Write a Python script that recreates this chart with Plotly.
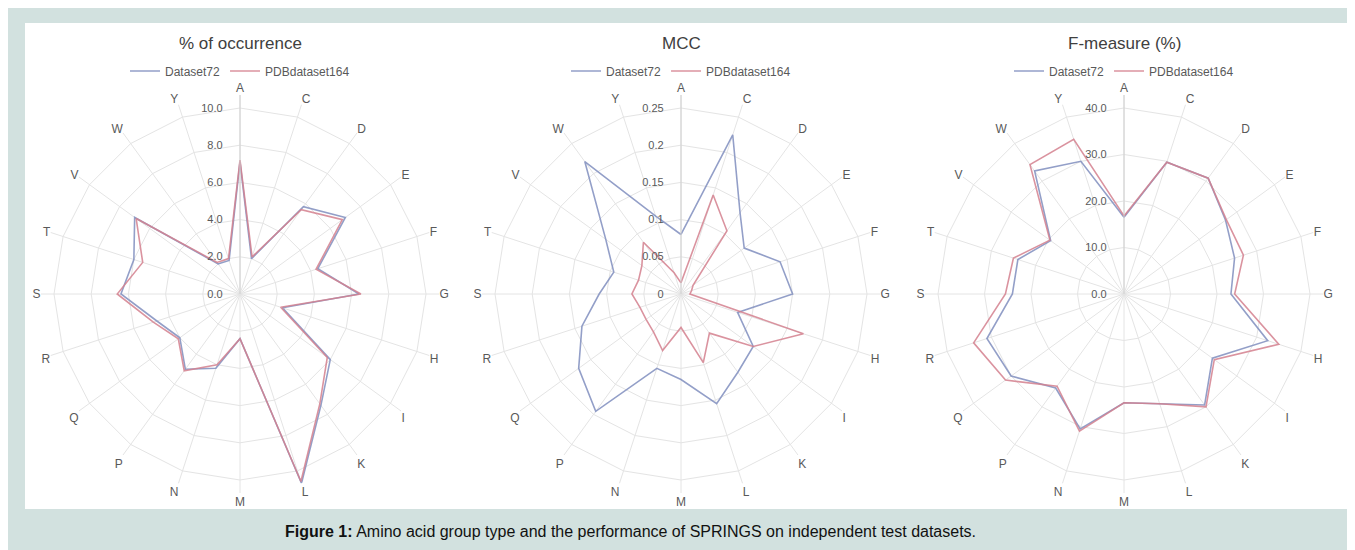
import plotly.graph_objects as go

# ---------------- data ----------------
categories = ['A', 'C', 'D', 'E', 'F', 'G', 'H', 'I', 'K', 'L',
              'M', 'N', 'P', 'Q', 'R', 'S', 'T', 'V', 'W', 'Y']

series_names = ['Dataset72', 'PDBdataset164']

# % of occurrence
occ_dataset = [7.1, 2.0, 5.8, 7.0, 4.4, 6.4, 2.4, 6.0, 7.4, 10.7,
               2.4, 4.2, 5.0, 4.0, 4.7, 6.4, 6.0, 7.0, 2.0, 1.9]
occ_pdb = [7.2, 2.1, 5.6, 6.8, 4.3, 6.5, 2.3, 5.8, 7.3, 10.6,
           2.4, 4.0, 5.1, 4.1, 4.9, 6.6, 5.5, 6.9, 2.1, 2.0]

# MCC
mcc_dataset = [0.08, 0.225, 0.135, 0.105, 0.14, 0.15, 0.08, 0.12, 0.13, 0.155,
               0.115, 0.105, 0.195, 0.17, 0.14, 0.11, 0.095, 0.125, 0.22, 0.11]
mcc_pdb = [0.015, 0.14, 0.105, 0.02, 0.015, 0.012, 0.173, 0.12, 0.065, 0.097,
           0.045, 0.08, 0.063, 0.058, 0.058, 0.066, 0.06, 0.065, 0.086, 0.03]

# F-measure (%)
fm_dataset = [16.5, 29.8, 30.8, 27.0, 25.0, 23.0, 32.5, 23.5, 29.5, 24.8,
              23.4, 30.5, 25.0, 30.0, 31.0, 24.0, 24.0, 19.5, 32.7, 30.0]
fm_pdb = [16.8, 29.8, 30.8, 27.2, 27.0, 23.8, 35.0, 24.0, 30.0, 24.8,
          23.4, 31.0, 24.5, 31.5, 34.0, 25.5, 25.0, 19.7, 34.4, 35.0]

titles = ['% of occurrence', 'MCC', 'F-measure (%)']
radial_ticks = [[0, 2, 4, 6, 8, 10], [0, 0.05, 0.1, 0.15, 0.2, 0.25], [0, 10, 20, 30, 40]]
radial_ticktext = [['0.0', '2.0', '4.0', '6.0', '8.0', '10.0'],
                   ['0', '0.05', '0.1', '0.15', '0.2', '0.25'],
                   ['0.0', '10.0', '20.0', '30.0', '40.0']]
panels = [(occ_dataset, occ_pdb), (mcc_dataset, mcc_pdb), (fm_dataset, fm_pdb)]

caption = '<b>Figure 1:</b> Amino acid group type and the performance of SPRINGS on independent test datasets.'

# ---------------- layout constants ----------------
# the page body adds an 8px offset, so the figure is 8px smaller
OFF = 8
W, H = 1355 - OFF, 550 - OFF
centers = [240 - OFF, 681 - OFF, 1124 - OFF]
CY = 294 - OFF
R_MAX = 186          # pixel radius of the outer ring
EXT = 1.07           # room beyond the outer ring
COLORS = ['rgba(128,142,190,0.85)', 'rgba(212,128,142,0.85)']
GRID = '#e4e4e4'
TXT = '#595959'
TEAL = '#d2e1df'

fig = go.Figure()
polar_keys = ['polar', 'polar2', 'polar3']
legend_keys = ['legend', 'legend2', 'legend3']


def closed(v):
    return list(v) + [v[0]]


def px(x):
    return x / W


def py(y):
    return 1 - y / H


layout_extra = {}
annotations = []
for i in range(3):
    for s in range(2):
        vals = panels[i][s]
        fig.add_trace(go.Scatterpolar(
            r=closed(vals), theta=closed(categories), mode='lines',
            line=dict(color=COLORS[s], width=1.6),
            name=series_names[s], subplot=polar_keys[i], legend=legend_keys[i],
            hoverinfo='skip'))
    rr = R_MAX * EXT
    cx = centers[i]
    rmax = radial_ticks[i][-1]
    layout_extra[polar_keys[i]] = dict(
        domain=dict(x=[px(cx - rr), px(cx + rr)],
                    y=[py(CY + rr), py(CY - rr)]),
        bgcolor='rgba(0,0,0,0)',
        gridshape='linear',
        angularaxis=dict(type='category', categoryarray=categories,
                         direction='clockwise', rotation=90,
                         showline=False, gridcolor=GRID, gridwidth=1,
                         ticks='', tickfont=dict(size=12, color=TXT,
                                                 family='Liberation Sans, Arial')),
        radialaxis=dict(range=[0, rmax * EXT], angle=90, tickangle=90,
                        side='counterclockwise',
                        tickvals=radial_ticks[i], ticktext=radial_ticktext[i],
                        showline=True, linecolor='#d0d0d0', gridcolor=GRID,
                        ticks='outside', ticklen=13, tickcolor='rgba(0,0,0,0)',
                        tickfont=dict(size=11, color=TXT,
                                      family='Liberation Sans, Arial')),
    )
    layout_extra[legend_keys[i]] = dict(
        orientation='h', x=px(cx), xanchor='center', y=py(71 - OFF), yanchor='middle',
        bgcolor='rgba(0,0,0,0)', font=dict(size=12, color=TXT,
                                           family='Liberation Sans, Arial'),
        itemwidth=30, tracegroupgap=0)
    annotations.append(dict(
        text=titles[i], x=px(cx), y=py(44 - OFF), xref='paper', yref='paper',
        showarrow=False, xanchor='center', yanchor='middle',
        font=dict(size=17, color='#404040', family='Liberation Sans, Arial')))

annotations.append(dict(
    text=caption, x=px(283 - OFF), y=py(531 - OFF), xref='paper', yref='paper',
    showarrow=False, xanchor='left', yanchor='middle',
    font=dict(size=16, color='#111111', family='Liberation Sans, Arial')))

shapes = [
    dict(type='rect', xref='paper', yref='paper',
         x0=px(25 - OFF), x1=px(1348 - OFF), y0=py(509 - OFF), y1=py(23 - OFF),
         fillcolor='white', line=dict(width=0), layer='below'),
]

fig.update_layout(
    width=W, height=H, margin=dict(l=0, r=0, t=0, b=0, autoexpand=False),
    paper_bgcolor=TEAL, plot_bgcolor='white',
    showlegend=True, annotations=annotations, shapes=shapes,
    **layout_extra)

fig.write_html('out.html')
